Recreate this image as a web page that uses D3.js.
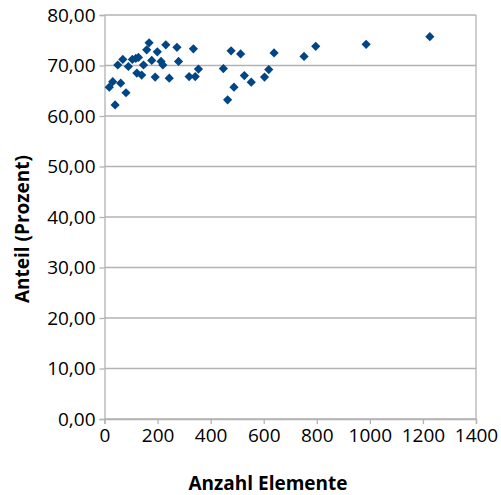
<!DOCTYPE html>
<html>
<head>
<meta charset="utf-8">
<script src="https://cdn.jsdelivr.net/npm/d3@7"></script>
<style>
  html, body { margin: 0; padding: 0; background: #fff; }
  svg { display: block; font-family: "Open Sans", sans-serif; }
</style>
</head>
<body>
<svg id="chart" width="501" height="495"></svg>
<script>
// Number of elements per sample
const elementCounts = [18, 31, 40, 50, 61, 69, 81, 90, 105, 118, 128, 122, 140, 147, 159, 168, 178, 191, 199, 213,
  220, 231, 244, 273, 279, 319, 335, 342, 354, 448, 464, 477, 488, 513, 527, 553, 603, 619, 639, 752, 796, 986, 1226];
// Share in percent for each sample
const shares = [65.7, 66.8, 62.2, 70.1, 66.5, 71.2, 64.6, 69.8, 71.2, 71.4, 71.6, 68.5, 68.1, 70.1, 73.1, 74.5, 71.0, 67.7, 72.7, 70.8,
  70.1, 74.1, 67.5, 73.6, 70.8, 67.8, 73.3, 67.8, 69.3, 69.4, 63.2, 72.9, 65.7, 72.3, 68.0, 66.7, 67.7, 69.2, 72.5, 71.8, 73.8, 74.2, 75.7];

const xTicks = [0, 200, 400, 600, 800, 1000, 1200, 1400];
const yTicks = [0, 10, 20, 30, 40, 50, 60, 70, 80];
const xTitle = "Anzahl Elemente";
const yTitle = "Anteil (Prozent)";

const points = elementCounts.map((x, i) => ({ x, y: shares[i] }));

const svg = d3.select("#chart");
const plotLeft = 104.5, plotRight = 476, plotTop = 15, plotBottom = 419;
const gridColor = "#b3b3b3";

const x = d3.scaleLinear().domain([0, 1400]).range([plotLeft, plotRight]);
const y = d3.scaleLinear().domain([0, 80]).range([plotBottom, plotTop]);

// Horizontal gridlines
svg.append("g")
  .selectAll("line")
  .data(yTicks)
  .join("line")
  .attr("x1", plotLeft).attr("x2", plotRight)
  .attr("y1", d => y(d)).attr("y2", d => y(d))
  .attr("stroke", gridColor).attr("stroke-width", 1.3);

// Right border of the plot area
svg.append("line")
  .attr("x1", plotRight).attr("x2", plotRight)
  .attr("y1", plotTop).attr("y2", plotBottom)
  .attr("stroke", gridColor).attr("stroke-width", 1.3);

const fmt = d => d.toFixed(2).replace(".", ",");

// Y axis
const yAxis = svg.append("g")
  .attr("transform", `translate(${plotLeft},0)`)
  .call(d3.axisLeft(y).tickValues(yTicks).tickFormat(fmt).tickSize(5).tickPadding(4));
// X axis
const xAxis = svg.append("g")
  .attr("transform", `translate(0,${plotBottom})`)
  .call(d3.axisBottom(x).tickValues(xTicks).tickFormat(d3.format("d")).tickSize(5).tickPadding(5));

[xAxis, yAxis].forEach(g => {
  g.select(".domain").attr("stroke", gridColor).attr("stroke-width", 1.3);
  g.selectAll(".tick line").attr("stroke", gridColor).attr("stroke-width", 1.3);
  g.selectAll(".tick text")
    .attr("fill", "#000")
    .style("font-family", "'Open Sans', sans-serif")
    .style("font-size", "19px");
});

// Diamond markers
const half = 4.6;
const diamond = `M0,${-half}L${half},0L0,${half}L${-half},0Z`;
svg.append("g")
  .selectAll("path")
  .data(points)
  .join("path")
  .attr("d", diamond)
  .attr("transform", d => `translate(${x(d.x)},${y(d.y)})`)
  .attr("fill", "#004586");

// Axis titles
svg.append("text")
  .attr("x", 268)
  .attr("y", 490)
  .attr("text-anchor", "middle")
  .style("font-size", "19px")
  .style("font-weight", "bold")
  .text(xTitle);

svg.append("text")
  .attr("transform", "translate(29,229) rotate(-90)")
  .attr("text-anchor", "middle")
  .style("font-size", "19px")
  .style("font-weight", "bold")
  .text(yTitle);
</script>
</body>
</html>
